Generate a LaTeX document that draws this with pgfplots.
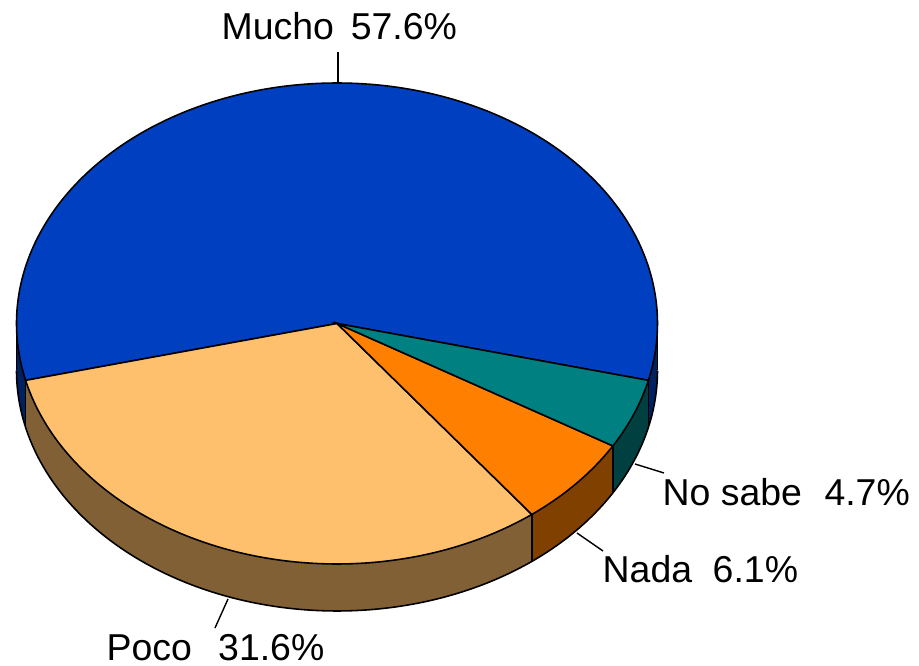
\documentclass[border=0pt]{standalone}
\usepackage{pgfplots}
\pgfplotsset{compat=1.18}
\usepackage{pgfplotstable}
\usepgfplotslibrary{fillbetween}
\usepackage{fontspec}
\setmainfont{Liberation Sans}

\definecolor{mtop}{RGB}{0,64,192}
\definecolor{mside}{RGB}{0,32,96}
\definecolor{ptop}{RGB}{255,192,110}
\definecolor{pside}{RGB}{128,96,52}
\definecolor{ntop}{RGB}{255,128,0}
\definecolor{nside}{RGB}{128,64,0}
\definecolor{stop}{RGB}{0,128,128}
\definecolor{sside}{RGB}{0,64,64}

\pgfplotstableread{
label value
Mucho 57.6
Poco 31.6
Nada 6.1
NoSabe 4.7
}\piedata

\pgfplotstablegetelem{0}{value}\of\piedata \let\vA\pgfplotsretval
\pgfplotstablegetelem{1}{value}\of\piedata \let\vB\pgfplotsretval
\pgfplotstablegetelem{2}{value}\of\piedata \let\vC\pgfplotsretval
\pgfplotstablegetelem{3}{value}\of\piedata \let\vD\pgfplotsretval

% geometry (pixel units, y downwards)
\def\cx{337}
\def\cy{323.5}
\def\rx{320.5}
\def\ry{240.5}
\def\dd{47}

\pgfmathsetmacro{\aS}{90-\vA*3.6/2}
\pgfmathsetmacro{\aA}{\aS+\vA*3.6}
\pgfmathsetmacro{\aB}{\aA+\vB*3.6}
\pgfmathsetmacro{\aC}{\aB+\vC*3.6}
\pgfmathsetmacro{\aD}{\aC+\vD*3.6}

\begin{document}
\begin{tikzpicture}
\begin{axis}[
  hide axis, scale only axis,
  width=9.19cm, height=6.66cm,
  xmin=0, xmax=919, ymin=0, ymax=666,
  y dir=reverse, clip=false,
  trig format plots=deg,
]
\path (rel axis cs:0,0) rectangle (rel axis cs:1,1);

% ---------- sides ----------
% Mucho left part
\addplot[draw=none, name path=mlT, domain=180:\aA, samples=20] ({\cx+\rx*cos(x)},{\cy-\ry*sin(x)});
\addplot[draw=none, name path=mlB, domain=180:\aA, samples=20] ({\cx+\rx*cos(x)},{\cy-\ry*sin(x)+\dd});
\addplot[fill=mside, draw=none] fill between[of=mlT and mlB];
% Poco
\addplot[draw=none, name path=pT, domain=\aA:\aB, samples=80] ({\cx+\rx*cos(x)},{\cy-\ry*sin(x)});
\addplot[draw=none, name path=pB, domain=\aA:\aB, samples=80] ({\cx+\rx*cos(x)},{\cy-\ry*sin(x)+\dd});
\addplot[fill=pside, draw=none] fill between[of=pT and pB];
% Nada
\addplot[draw=none, name path=nT, domain=\aB:\aC, samples=30] ({\cx+\rx*cos(x)},{\cy-\ry*sin(x)});
\addplot[draw=none, name path=nB, domain=\aB:\aC, samples=30] ({\cx+\rx*cos(x)},{\cy-\ry*sin(x)+\dd});
\addplot[fill=nside, draw=none] fill between[of=nT and nB];
% No sabe
\addplot[draw=none, name path=sT, domain=\aC:\aD, samples=30] ({\cx+\rx*cos(x)},{\cy-\ry*sin(x)});
\addplot[draw=none, name path=sB, domain=\aC:\aD, samples=30] ({\cx+\rx*cos(x)},{\cy-\ry*sin(x)+\dd});
\addplot[fill=sside, draw=none] fill between[of=sT and sB];
% Mucho right part
\addplot[draw=none, name path=mrT, domain=\aD:360, samples=20] ({\cx+\rx*cos(x)},{\cy-\ry*sin(x)});
\addplot[draw=none, name path=mrB, domain=\aD:360, samples=20] ({\cx+\rx*cos(x)},{\cy-\ry*sin(x)+\dd});
\addplot[fill=mside, draw=none] fill between[of=mrT and mrB];

% side outlines
\addplot[black, line width=0.45pt, domain=180:360, samples=180] ({\cx+\rx*cos(x)},{\cy-\ry*sin(x)+\dd});
\foreach \ang in {\aA,\aB,\aC,\aD} {
  \edef\tmp{\noexpand\draw[black, line width=0.45pt]
    (axis cs:{\cx+\rx*cos(\ang)},{\cy-\ry*sin(\ang)}) --
    (axis cs:{\cx+\rx*cos(\ang)},{\cy-\ry*sin(\ang)+\dd});}
  \tmp
}
\draw[black, line width=0.45pt] (axis cs:{\cx-\rx},\cy) -- (axis cs:{\cx-\rx},{\cy+\dd});
\draw[black, line width=0.45pt] (axis cs:{\cx+\rx},\cy) -- (axis cs:{\cx+\rx},{\cy+\dd});

% ---------- top face ----------
\addplot[fill=mtop, draw=black, line width=0.45pt, domain=\aS:\aA, samples=200]
  ({\cx+\rx*cos(x)},{\cy-\ry*sin(x)}) -- (axis cs:\cx,\cy) -- cycle;
\addplot[fill=ptop, draw=black, line width=0.45pt, domain=\aA:\aB, samples=120]
  ({\cx+\rx*cos(x)},{\cy-\ry*sin(x)}) -- (axis cs:\cx,\cy) -- cycle;
\addplot[fill=ntop, draw=black, line width=0.45pt, domain=\aB:\aC, samples=30]
  ({\cx+\rx*cos(x)},{\cy-\ry*sin(x)}) -- (axis cs:\cx,\cy) -- cycle;
\addplot[fill=stop, draw=black, line width=0.45pt, domain=\aC:\aD, samples=30]
  ({\cx+\rx*cos(x)},{\cy-\ry*sin(x)}) -- (axis cs:\cx,\cy) -- cycle;

% ---------- labels ----------
\draw[black, line width=0.4pt] (axis cs:338,52) -- (axis cs:338,83);
\draw[black, line width=0.4pt] (axis cs:635,464) -- (axis cs:664,473);
\draw[black, line width=0.4pt] (axis cs:577,533) -- (axis cs:603,551);
\draw[black, line width=0.4pt] (axis cs:228,599) -- (axis cs:215,628);

\begin{scope}[every node/.style={inner sep=0pt, font=\fontsize{10.65}{12}\selectfont}]
\node[anchor=base west] at (axis cs:221,40) {Mucho\hspace{0.45em}57.6\%};
\node[anchor=base west] at (axis cs:662,506) {No sabe\hspace{0.6em}4.7\%};
\node[anchor=base west] at (axis cs:602,583) {Nada\hspace{0.55em}6.1\%};
\node[anchor=base west] at (axis cs:106,661) {Poco\hspace{0.7em}31.6\%};
\end{scope}
\end{axis}
\end{tikzpicture}
\end{document}
